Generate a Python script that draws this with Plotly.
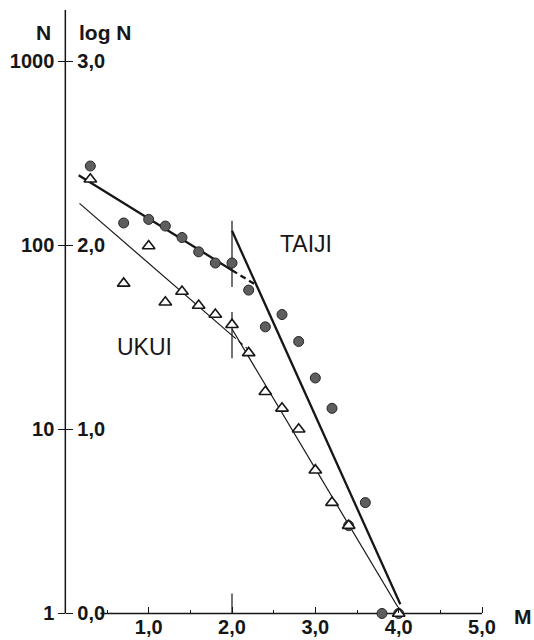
import numpy as np
import plotly.graph_objects as go

# Magnitude-frequency counts for the two areas
M_TAIJI = [0.3, 0.7, 1.0, 1.2, 1.4, 1.6, 1.8, 2.0, 2.2, 2.4, 2.6, 2.8, 3.0, 3.2, 3.4, 3.6, 3.8, 4.0]
N_TAIJI = [269, 132, 138, 127, 110, 92, 80, 80, 57, 36, 42, 30, 19, 13, 3, 4, 1, 1]
M_UKUI = [0.3, 0.7, 1.0, 1.2, 1.4, 1.6, 1.8, 2.0, 2.2, 2.4, 2.6, 2.8, 3.0, 3.2, 3.4, 4.0]
N_UKUI = [228, 62, 99, 49, 56, 47, 42, 37, 26, 16, 13, 10, 6, 4, 3, 1]

# Fitted straight lines, end points as (M, log N)
TAIJI_LOW_M, TAIJI_LOW_LOGN = [0.16, 2.0], [2.38, 1.864]
TAIJI_LOW_EXT_M, TAIJI_LOW_EXT_LOGN = [2.0, 2.28], [1.864, 1.786]
TAIJI_HIGH_M, TAIJI_HIGH_LOGN = [2.0, 4.02], [2.078, 0.05]
UKUI_LOW_M, UKUI_LOW_LOGN = [0.17, 2.0], [2.227, 1.51]
UKUI_LOW_EXT_M, UKUI_LOW_EXT_LOGN = [2.0, 2.22], [1.51, 1.424]
UKUI_HIGH_M, UKUI_HIGH_LOGN = [2.0, 3.99], [1.545, 0.035]

# Break marks at M = 2.0 (log N spans)
BREAK_TAIJI_LOGN = [1.773, 2.132]
BREAK_UKUI_LOGN = [1.386, 1.637]
BREAK_M = 2.0

# Tick labels
LOGN_TICKS = [0, 1, 2, 3]
N_TICK_TEXT = ["1", "10", "100", "1000"]
LOGN_TICK_TEXT = ["0,0", "1,0", "2,0", "3,0"]
M_TICKS = [1, 2, 3, 4, 5]
M_TICK_TEXT = ["1,0", "2,0", "3,0", "4,0", "5,0"]
M_MINOR_TICKS = [0.5, 1.5, 2.5, 3.5, 4.5]

# ---- pixel geometry of the plotting frame ----
W, H = 534, 640
PX_PER_M, PX_PER_DEC = 83.4, 184.0
X0_PX, Y0_PX = 65.0, 613.0
XR = [-0.04, 5.6]
YR = [-0.03, 3.277]
ml = X0_PX + XR[0] * PX_PER_M
pw = (XR[1] - XR[0]) * PX_PER_M
mr = W - ml - pw
mt = Y0_PX - YR[1] * PX_PER_DEC
ph = (YR[1] - YR[0]) * PX_PER_DEC
mb = H - mt - ph
ypos = (0 - XR[0]) / (XR[1] - XR[0])
xpos = (0 - YR[0]) / (YR[1] - YR[0])


def to_paper(m, logn):
    """(M, log N) -> paper fractions, usable outside the axis ranges."""
    return (m - XR[0]) / (XR[1] - XR[0]), (logn - YR[0]) / (YR[1] - YR[0])


INK = "#161616"
SANS = "Liberation Sans, Arial, Helvetica, sans-serif"

fig = go.Figure()


def seg(xs, ys, width, dash="solid", yaxis="y"):
    fig.add_trace(go.Scatter(x=xs, y=ys, mode="lines", yaxis=yaxis,
                             line=dict(color=INK, width=width, dash=dash),
                             hoverinfo="skip", showlegend=False))


# axis lines
seg([0, 0], [0, YR[1]], 1.5, yaxis="y2")
seg([0.42, 5.0], [0, 0], 1.3)
seg([BREAK_M, BREAK_M], [0, 0.109], 1.2)

# fit lines
seg(TAIJI_LOW_M, TAIJI_LOW_LOGN, 2.3)
seg(TAIJI_LOW_EXT_M, TAIJI_LOW_EXT_LOGN, 2.3, dash="6px,4px")
seg(TAIJI_HIGH_M, TAIJI_HIGH_LOGN, 2.3)
seg(UKUI_LOW_M, UKUI_LOW_LOGN, 1.2)
seg(UKUI_LOW_EXT_M, UKUI_LOW_EXT_LOGN, 1.2, dash="5px,4px")
seg(UKUI_HIGH_M, UKUI_HIGH_LOGN, 1.2)

# break marks
seg([BREAK_M, BREAK_M], BREAK_TAIJI_LOGN, 1.2)
seg([BREAK_M, BREAK_M], BREAK_UKUI_LOGN, 1.2)

# data points
fig.add_trace(go.Scatter(
    x=M_TAIJI, y=np.log10(N_TAIJI), mode="markers", name="TAIJI",
    marker=dict(symbol="circle", size=10, color="#5e5e5e",
                line=dict(color="#262626", width=1)),
    cliponaxis=False, showlegend=False))
fig.add_trace(go.Scatter(
    x=M_UKUI, y=np.log10(N_UKUI), mode="markers", name="UKUI",
    marker=dict(symbol="triangle-up", size=11, color="white",
                line=dict(color=INK, width=1.6)),
    cliponaxis=False, showlegend=False))

tickfont = dict(family=SANS, size=20, color=INK, weight="bold")

fig.update_layout(
    width=W, height=H,
    margin=dict(l=ml, r=mr, t=mt, b=mb, pad=0, autoexpand=False),
    paper_bgcolor="white", plot_bgcolor="white",
    showlegend=False,
    xaxis=dict(range=XR, anchor="free", position=xpos, showline=False,
               showgrid=False, zeroline=False, ticks="inside",
               tickvals=M_TICKS, ticktext=M_TICK_TEXT, ticklen=6,
               tickwidth=1.3, tickcolor=INK, tickfont=tickfont,
               ticklabelstandoff=0,
               minor=dict(tickvals=M_MINOR_TICKS, ticks="inside",
                          ticklen=3, tickwidth=1, tickcolor=INK),
               automargin=False, fixedrange=True),
    yaxis=dict(range=YR, anchor="free", position=ypos, side="left",
               showline=False, showgrid=False, zeroline=False,
               ticks="outside", ticklen=7, tickwidth=1.3, tickcolor=INK,
               tickvals=LOGN_TICKS, ticktext=N_TICK_TEXT, tickfont=tickfont,
               automargin=False, fixedrange=True),
    yaxis2=dict(range=YR, anchor="free", position=ypos, side="right",
                overlaying="y", showline=False, showgrid=False,
                zeroline=False, ticks="outside", ticklen=7, tickwidth=1.3,
                tickcolor=INK, tickvals=LOGN_TICKS, ticktext=LOGN_TICK_TEXT,
                tickfont=tickfont, automargin=False, fixedrange=True),
)

labfont = dict(family=SANS, size=21, color=INK, weight="bold")
areafont = dict(family=SANS, size=23, color=INK)


def label(m, logn, text, font, xanchor="center"):
    xp, yp = to_paper(m, logn)
    fig.add_annotation(x=xp, y=yp, xref="paper", yref="paper", text=text,
                       showarrow=False, font=font, xanchor=xanchor)


label(-0.264, 3.228, "N", labfont)
label(0.14, 3.228, "log N", labfont, xanchor="left")
label(5.49, -0.09, "M", labfont)
label(2.89, 2.005, "TAIJI", areafont)
label(0.947, 1.446, "UKUI", areafont)

fig.write_html("out.html")
